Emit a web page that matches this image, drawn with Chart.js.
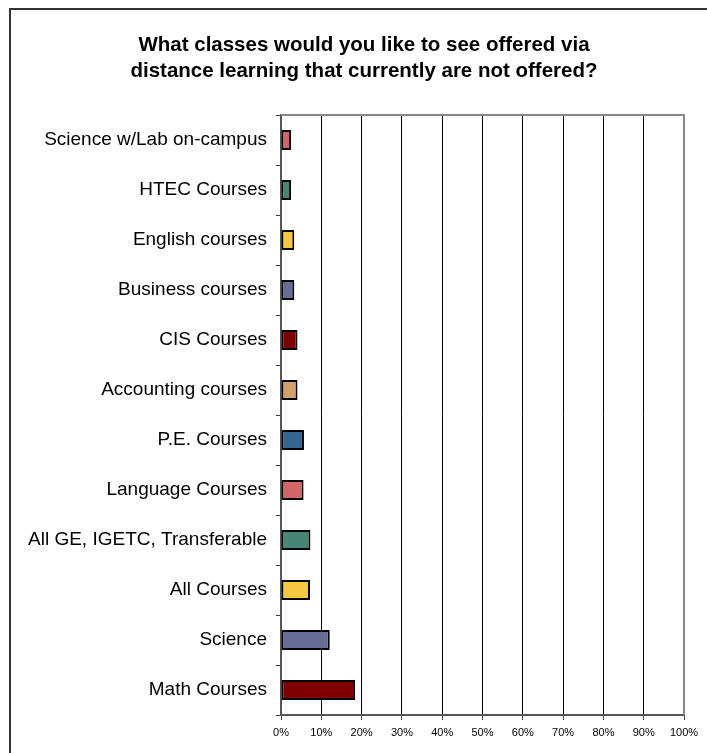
<!DOCTYPE html>
<html>
<head>
<meta charset="utf-8">
<script src="https://cdn.jsdelivr.net/npm/chart.js@4"></script>
<style>
  html,body{margin:0;padding:0;background:#fff;}
  #wrap{width:707px;height:753px;position:relative;}
</style>
</head>
<body>
<div id="wrap"><canvas id="chart"></canvas></div>
<script>
const categories = [
  "Science w/Lab on-campus",
  "HTEC Courses",
  "English courses",
  "Business courses",
  "CIS Courses",
  "Accounting courses",
  "P.E. Courses",
  "Language Courses",
  "All GE, IGETC, Transferable",
  "All Courses",
  "Science",
  "Math Courses"
];
const percents = [2.5, 2.5, 3.3, 3.3, 4.1, 4.1, 5.7, 5.6, 7.3, 7.2, 12.1, 18.4];
const barColors = ["#d06666","#478577","#f5c842","#646e96","#800000","#d4a06a",
                   "#336791","#d06666","#478577","#f5c842","#646e96","#800000"];
const titleLines = ["What classes would you like to see offered via",
                    "distance learning that currently are not offered?"];

const FONT = "'Liberation Sans', Arial, sans-serif";

// outer frame, title and the grey plot border drawn by hand
const frame = {
  id:"frame",
  beforeDraw(chart){
    const c = chart.ctx;
    c.save();
    c.fillStyle="#fff";
    c.fillRect(0,0,chart.width,chart.height);
    c.strokeStyle="#333";
    c.lineWidth=2;
    c.beginPath();
    c.moveTo(10,753); c.lineTo(10,9); c.lineTo(707,9);
    c.stroke();
    c.fillStyle="#000";
    c.font="bold 20.5px "+FONT;
    c.textAlign="center";
    c.textBaseline="alphabetic";
    c.fillText(titleLines[0],364,51);
    c.fillText(titleLines[1],364,77);
    c.restore();
  },
  afterDatasetsDraw(chart){
    const a = chart.chartArea, c = chart.ctx;
    c.save();
    c.strokeStyle="#888";
    c.lineWidth=2;
    c.beginPath();
    c.moveTo(a.left,a.top); c.lineTo(a.right,a.top); c.lineTo(a.right,a.bottom);
    c.stroke();
    c.restore();
  }
};

new Chart(document.getElementById("chart").getContext("2d"),{
  type:"bar",
  data:{
    labels:categories,
    datasets:[{
      data:percents,
      backgroundColor:barColors,
      borderColor:"#000",
      borderWidth:2,
      borderSkipped:false,
      barPercentage:0.4,
      categoryPercentage:1
    }]
  },
  options:{
    indexAxis:"y",
    responsive:true,
    maintainAspectRatio:false,
    animation:false,
    layout:{ padding:{ top:115, right:23, bottom:0, left:0 } },
    scales:{
      x:{
        min:0, max:100,
        ticks:{ stepSize:10, callback:v=>v+"%", color:"#000", font:{family:FONT,size:11}, padding:6, maxRotation:0 },
        grid:{ color:"#000", lineWidth:1, tickLength:5, tickColor:"#444" },
        border:{ color:"#555", width:2 },
        afterFit(s){ s.height = 38; }
      },
      y:{
        ticks:{ color:"#000", font:{family:FONT,size:19}, padding:9 },
        grid:{ drawOnChartArea:false, offset:true, tickLength:5, tickColor:"#333" },
        border:{ color:"#555", width:2 },
        afterFit(s){ s.width = 281; }
      }
    },
    plugins:{
      legend:{ display:false },
      tooltip:{ enabled:false },
      title:{ display:false }
    }
  },
  plugins:[frame]
});
</script>
</body>
</html>
